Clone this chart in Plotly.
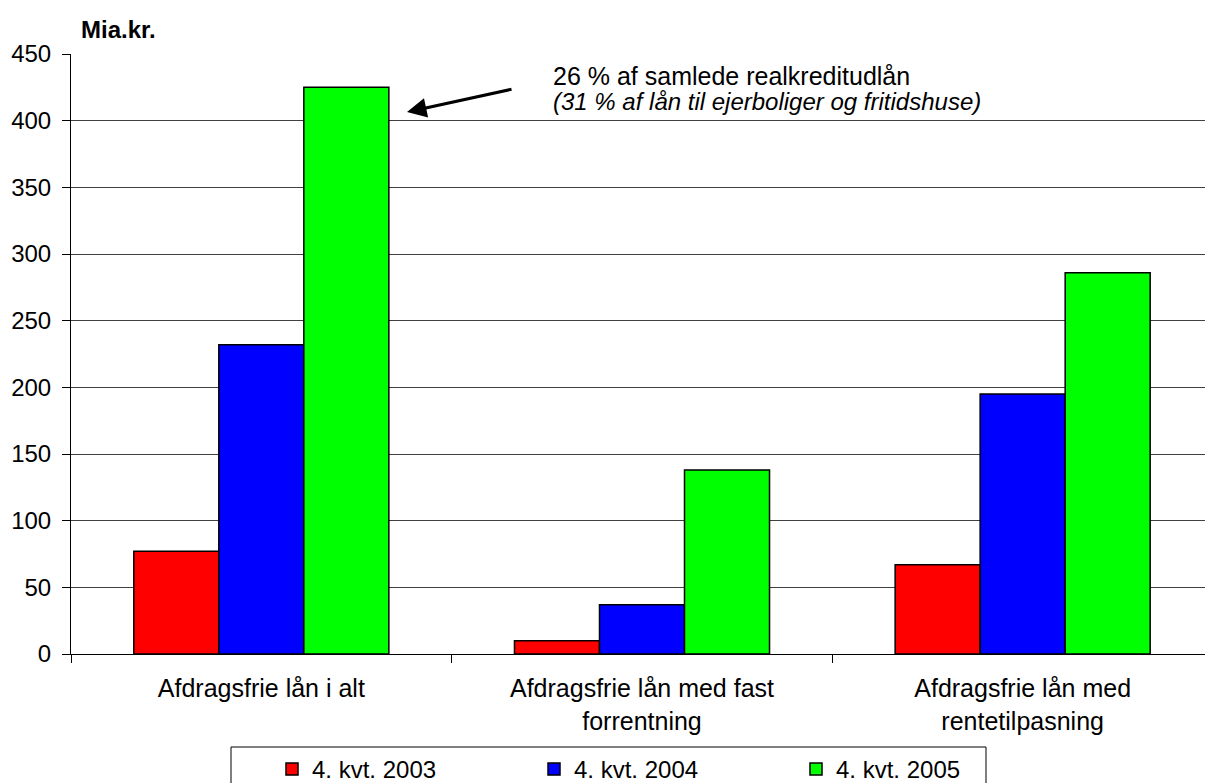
import plotly.graph_objects as go

categories = [
    "Afdragsfrie lån i alt",
    "Afdragsfrie lån med fast<br>forrentning",
    "Afdragsfrie lån med<br>rentetilpasning",
]
series_names = ["4. kvt. 2003", "4. kvt. 2004", "4. kvt. 2005"]
values_2003 = [77, 10, 67]
values_2004 = [232, 37, 195]
values_2005 = [425, 138, 286]
series_colors = ["#FF0000", "#0000FF", "#00FF00"]
y_ticks = [0, 50, 100, 150, 200, 250, 300, 350, 400, 450]

FONT = "Liberation Sans, Arial, sans-serif"
W, H = 1205, 783
ML, MR, MT, MB = 71, 0, 54, 129
PW, PH = W - ML - MR, H - MT - MB


def px_x(px):
    return (px - ML) / PW


def px_y(py):
    return (H - MB - py) / PH


fig = go.Figure()
for name, vals, col in zip(series_names, [values_2003, values_2004, values_2005], series_colors):
    fig.add_trace(go.Bar(
        name=name, x=categories, y=vals,
        marker=dict(color=col, line=dict(color="black", width=1.5)),
    ))

fig.update_layout(
    width=W, height=H,
    margin=dict(l=ML, r=MR, t=MT, b=MB, autoexpand=False),
    paper_bgcolor="white", plot_bgcolor="white",
    font=dict(family=FONT, size=24, color="black"),
    barmode="group", bargap=0.33, bargroupgap=0,
    showlegend=True,
    legend=dict(
        orientation="h", x=px_x(272), y=px_y(747), xanchor="left", yanchor="top",
        borderwidth=0, bgcolor="rgba(0,0,0,0)",
        font=dict(family=FONT, size=24), entrywidth=217, entrywidthmode="pixels",
        traceorder="normal",
    ),
)

# frame around the legend
fig.add_shape(
    type="rect", xref="paper", yref="paper",
    x0=px_x(231), x1=px_x(986), y0=px_y(747), y1=px_y(795),
    line=dict(color="black", width=1), fillcolor="rgba(0,0,0,0)", layer="below",
)

fig.update_xaxes(
    type="category", range=[-0.5, 2.479],
    showline=True, linecolor="black", linewidth=1,
    ticks="outside", tickson="boundaries", ticklen=8, tickcolor="black",
    ticklabelstandoff=12,
    showgrid=False, tickfont=dict(family=FONT, size=25),
)
fig.update_yaxes(
    range=[0, 450], tickvals=y_ticks,
    showline=True, linecolor="black", linewidth=1,
    ticks="outside", ticklen=8, tickcolor="black", ticklabelstandoff=6,
    showgrid=True, gridcolor="#404040", gridwidth=1,
    zeroline=False, tickfont=dict(family=FONT, size=24),
)

# unit label above the value axis
fig.add_annotation(
    text="<b>Mia.kr.</b>", xref="paper", yref="paper",
    x=px_x(79), y=px_y(30), xanchor="left", yanchor="middle",
    showarrow=False, font=dict(family=FONT, size=24),
)

# callout for the total of interest-only loans
fig.add_annotation(
    text="26 % af samlede realkreditudlån", xref="paper", yref="paper",
    x=px_x(551), y=px_y(76), xanchor="left", yanchor="middle",
    showarrow=False, font=dict(family=FONT, size=25),
)
fig.add_annotation(
    text="<i>(31 % af lån til ejerboliger og fritidshuse)</i>", xref="paper", yref="paper",
    x=px_x(551), y=px_y(101), xanchor="left", yanchor="middle",
    showarrow=False, font=dict(family=FONT, size=24),
)
fig.add_annotation(
    xref="paper", yref="paper", axref="pixel", ayref="pixel",
    x=px_x(407), y=px_y(112), ax=106, ay=-23,
    text="", showarrow=True, arrowhead=2, arrowsize=1.3, arrowwidth=3, arrowcolor="black",
)

fig.write_html("out.html")
